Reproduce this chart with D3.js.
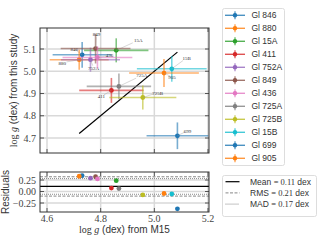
<!DOCTYPE html>
<html>
<head>
<meta charset="utf-8">
<script src="https://cdn.jsdelivr.net/npm/d3@7"></script>
<style>
  body { margin: 0; background: #fff; }
  svg { display: block; }
</style>
</head>
<body>
<div id="chart"></div>
<script>
// star names, M15 log g (x), this study log g (y) and errors
const names = ["Gl 846", "Gl 880", "Gl 15A", "Gl 411", "Gl 752A", "Gl 849", "Gl 436", "Gl 725A", "Gl 725B", "Gl 15B", "Gl 699", "Gl 905"];
const shortNames = ["846", "880", "15A", "411", "752A", "849", "436", "725A", "725B", "15B", "699", "905"];
const loggM15 = [4.731, 4.720, 4.858, 4.840, 4.762, 4.781, 4.788, 4.868, 4.957, 5.065, 5.086, 5.036];
const loggM15Err = [0.11, 0.11, 0.12, 0.12, 0.11, 0.13, 0.13, 0.12, 0.125, 0.13, 0.115, 0.13];
const loggStudy = [5.074, 5.052, 5.094, 4.914, 5.052, 5.102, 5.062, 4.932, 4.882, 5.011, 4.710, 4.992];
const loggStudyErr = [0.058, 0.045, 0.054, 0.056, 0.054, 0.067, 0.05, 0.058, 0.054, 0.058, 0.06, 0.063];
const colors = ["#1f77b4", "#ff7f0e", "#2ca02c", "#d62728", "#9467bd", "#8c564b", "#e377c2", "#7f7f7f", "#bcbd22", "#17becf", "#1f77b4", "#ff7f0e"];
const xTicks = [4.6, 4.8, 5.0, 5.2];
const yTicks = [4.7, 4.8, 4.9, 5.0, 5.1];
const resTicks = [0.25, 0.0, -0.25];
const statNames = ["Mean", "RMS", "MAD"];
const statValues = [0.11, 0.21, 0.17];

// annotation label offsets in px (layout only)
const labelOffsets = [[-8, -6], [-17, 3], [22, -10], [-10, 6], [3, 8], [1, -15], [12, -2], [23, -11], [15, -5], [15, -11], [10, -5], [8, 4]];

const W = 320, H = 240;
const main = { left: 40, right: 209, top: 28, bottom: 153 };
const res = { top: 172, bottom: 212 };

const svg = d3.select("#chart").append("svg").attr("width", W).attr("height", H);

const x = d3.scaleLinear().domain([4.6, 5.2]).range([47, 208]);
const y = d3.scaleLinear().domain([4.7, 5.1]).range([138, 49]);
const yr = d3.scaleLinear().domain([-0.25, 0.25]).range([203, 180]);

const serif = "'Liberation Serif', 'DejaVu Serif', serif";
const sans = "'Liberation Sans', 'DejaVu Sans', sans-serif";
const gridColor = "#d9d9d9";

// clip paths
const defs = svg.append("defs");
defs.append("clipPath").attr("id", "clipMain").append("rect")
  .attr("x", main.left).attr("y", main.top)
  .attr("width", main.right - main.left).attr("height", main.bottom - main.top);
defs.append("clipPath").attr("id", "clipRes").append("rect")
  .attr("x", main.left).attr("y", res.top)
  .attr("width", main.right - main.left).attr("height", res.bottom - res.top);

function drawGrid(top, bottom, yScale, yTickVals) {
  const g = svg.append("g");
  g.selectAll(".gx").data(xTicks).enter().append("line")
    .attr("x1", d => x(d)).attr("x2", d => x(d))
    .attr("y1", top).attr("y2", bottom)
    .attr("stroke", gridColor).attr("stroke-width", 1.5);
  g.selectAll(".gy").data(yTickVals).enter().append("line")
    .attr("x1", main.left).attr("x2", main.right)
    .attr("y1", d => yScale(d)).attr("y2", d => yScale(d))
    .attr("stroke", gridColor).attr("stroke-width", 1.5);
}

function drawSpines(top, bottom, yScale, yTickVals, fmt, showX) {
  const g = svg.append("g");
  // inward ticks on all sides
  xTicks.forEach(t => {
    g.append("line").attr("x1", x(t)).attr("x2", x(t)).attr("y1", bottom).attr("y2", bottom - 4)
      .attr("stroke", "#333").attr("stroke-width", 0.8);
    g.append("line").attr("x1", x(t)).attr("x2", x(t)).attr("y1", top).attr("y2", top + 4)
      .attr("stroke", "#333").attr("stroke-width", 0.8);
  });
  yTickVals.forEach(t => {
    g.append("line").attr("x1", main.left).attr("x2", main.left + 4).attr("y1", yScale(t)).attr("y2", yScale(t))
      .attr("stroke", "#333").attr("stroke-width", 0.8);
    g.append("line").attr("x1", main.right).attr("x2", main.right - 4).attr("y1", yScale(t)).attr("y2", yScale(t))
      .attr("stroke", "#333").attr("stroke-width", 0.8);
  });
  g.append("rect").attr("x", main.left).attr("y", top)
    .attr("width", main.right - main.left).attr("height", bottom - top)
    .attr("fill", "none").attr("stroke", "#333").attr("stroke-width", 1);
  g.selectAll(".yl").data(yTickVals).enter().append("text")
    .attr("x", main.left - 4).attr("y", d => yScale(d) + 3.5)
    .attr("text-anchor", "end").attr("font-family", serif).attr("font-size", 10)
    .attr("fill", "#444").text(fmt);
  if (showX) {
    g.selectAll(".xl").data(xTicks).enter().append("text")
      .attr("x", d => x(d)).attr("y", bottom + 10)
      .attr("text-anchor", "middle").attr("font-family", serif).attr("font-size", 10)
      .attr("fill", "#444").text(d => d.toFixed(1));
  }
}

// ---- main panel ----
drawGrid(main.top, main.bottom, y, yTicks);
const gm = svg.append("g").attr("clip-path", "url(#clipMain)");

// 1:1 line over the M15 range
const xmin = d3.min(loggM15), xmax = d3.max(loggM15);
gm.append("line")
  .attr("x1", x(xmin)).attr("y1", y(xmin))
  .attr("x2", x(xmax)).attr("y2", y(xmax))
  .attr("stroke", "#000").attr("stroke-width", 1.2);

names.forEach((n, i) => {
  const cx = x(loggM15[i]), cy = y(loggStudy[i]);
  const c = colors[i];
  gm.append("line")
    .attr("x1", x(loggM15[i] - loggM15Err[i])).attr("x2", x(loggM15[i] + loggM15Err[i]))
    .attr("y1", cy).attr("y2", cy)
    .attr("stroke", c).attr("stroke-width", 1.6).attr("opacity", 0.6);
  gm.append("line")
    .attr("x1", cx).attr("x2", cx)
    .attr("y1", y(loggStudy[i] - loggStudyErr[i])).attr("y2", y(loggStudy[i] + loggStudyErr[i]))
    .attr("stroke", c).attr("stroke-width", 1.6).attr("opacity", 0.6);
  gm.append("circle").attr("cx", cx).attr("cy", cy).attr("r", 2.4).attr("fill", c);
  // annotation
  const [dx, dy] = labelOffsets[i];
  gm.append("line")
    .attr("x1", cx).attr("y1", cy)
    .attr("x2", cx + dx * 0.75).attr("y2", cy + dy * 0.75)
    .attr("stroke", "#999").attr("stroke-width", 0.4);
  gm.append("text")
    .attr("x", cx + dx).attr("y", cy + dy + 2)
    .attr("text-anchor", "middle").attr("font-family", serif).attr("font-size", 5)
    .attr("fill", "#333").text(shortNames[i]);
});

drawSpines(main.top, main.bottom, y, yTicks, d => d.toFixed(1), false);

// ---- residual panel ----
drawGrid(res.top, res.bottom, yr, resTicks);
const gr = svg.append("g").attr("clip-path", "url(#clipRes)");
const mean = statValues[0], rms = statValues[1], mad = statValues[2];
gr.append("line").attr("x1", main.left).attr("x2", main.right)
  .attr("y1", yr(mean)).attr("y2", yr(mean)).attr("stroke", "#000").attr("stroke-width", 1.2);
[mean + rms, mean - rms].forEach(v => {
  gr.append("line").attr("x1", main.left).attr("x2", main.right)
    .attr("y1", yr(v)).attr("y2", yr(v))
    .attr("stroke", "#888").attr("stroke-width", 1).attr("stroke-dasharray", "3,1.5");
});
[mean + mad, mean - mad].forEach(v => {
  gr.append("line").attr("x1", main.left).attr("x2", main.right)
    .attr("y1", yr(v)).attr("y2", yr(v))
    .attr("stroke", "#888").attr("stroke-width", 1).attr("stroke-dasharray", "1,1");
});
names.forEach((n, i) => {
  const r = loggStudy[i] - loggM15[i];
  const cx = x(loggM15[i]);
  gr.append("line").attr("x1", cx).attr("x2", cx)
    .attr("y1", yr(r - loggStudyErr[i] * 0.5)).attr("y2", yr(r + loggStudyErr[i] * 0.5))
    .attr("stroke", colors[i]).attr("stroke-width", 1.2);
  gr.append("circle").attr("cx", cx).attr("cy", yr(r)).attr("r", 2.4).attr("fill", colors[i]);
});
drawSpines(res.top, res.bottom, yr, resTicks, d => (d < 0 ? "\u2212" : "") + Math.abs(d).toFixed(2), true);

// ---- axis labels ----
function mathLabel(sel, rest) {
  sel.append("tspan").attr("font-family", serif).text("log ");
  sel.append("tspan").attr("font-family", serif).attr("font-style", "italic").text("g");
  sel.append("tspan").attr("font-family", sans).text(rest);
}
const yl = svg.append("text")
  .attr("transform", `translate(17,${(main.top + main.bottom) / 2}) rotate(-90)`)
  .attr("text-anchor", "middle").attr("font-size", 10).attr("fill", "#333");
mathLabel(yl, " (dex) from this study");

svg.append("text")
  .attr("transform", `translate(9,${(res.top + res.bottom) / 2}) rotate(-90)`)
  .attr("text-anchor", "middle").attr("font-size", 10).attr("font-family", sans)
  .attr("fill", "#333").text("Residuals");

const xl = svg.append("text")
  .attr("x", (main.left + main.right) / 2).attr("y", 233)
  .attr("text-anchor", "middle").attr("font-size", 10).attr("fill", "#333");
mathLabel(xl, " (dex) from M15");

// ---- legend 1 ----
const lg = svg.append("g");
lg.append("rect").attr("x", 222.5).attr("y", 8.5).attr("width", 62).attr("height", 157)
  .attr("rx", 2).attr("fill", "#fff").attr("stroke", "#ddd").attr("stroke-width", 1);
names.forEach((n, i) => {
  const ly = 15.3 + i * 13;
  lg.append("line").attr("x1", 225).attr("x2", 245).attr("y1", ly).attr("y2", ly)
    .attr("stroke", colors[i]).attr("stroke-width", 1.4).attr("opacity", 0.8);
  lg.append("line").attr("x1", 235).attr("x2", 235).attr("y1", ly - 4).attr("y2", ly + 4)
    .attr("stroke", colors[i]).attr("stroke-width", 1.2).attr("opacity", 0.8);
  lg.append("circle").attr("cx", 235).attr("cy", ly).attr("r", 2.2).attr("fill", colors[i]);
  lg.append("text").attr("x", 251.5).attr("y", ly + 3).attr("font-family", sans)
    .attr("font-size", 8.5).attr("fill", "#333").text(n);
});

// ---- legend 2 ----
const lg2 = svg.append("g");
lg2.append("rect").attr("x", 222.5).attr("y", 175.5).attr("width", 94).attr("height", 41)
  .attr("rx", 2).attr("fill", "#fff").attr("stroke", "#ddd").attr("stroke-width", 1);
const dashes = [null, "3,1.5", "1,1"];
const strokeCols = ["#000", "#888", "#888"];
statNames.forEach((s, i) => {
  const ly = 181.7 + i * 11.2;
  lg2.append("line").attr("x1", 225.5).attr("x2", 239.5).attr("y1", ly).attr("y2", ly)
    .attr("stroke", strokeCols[i]).attr("stroke-width", i === 0 ? 1.2 : 1)
    .attr("stroke-dasharray", dashes[i]);
  const t = lg2.append("text").attr("x", 250).attr("y", ly + 3).attr("font-size", 8.5).attr("fill", "#333");
  t.append("tspan").attr("font-family", sans).text(s + " ");
  t.append("tspan").attr("font-family", serif).text("= " + statValues[i].toFixed(2) + " ");
  t.append("tspan").attr("font-family", sans).text("dex");
});
</script>
</body>
</html>
